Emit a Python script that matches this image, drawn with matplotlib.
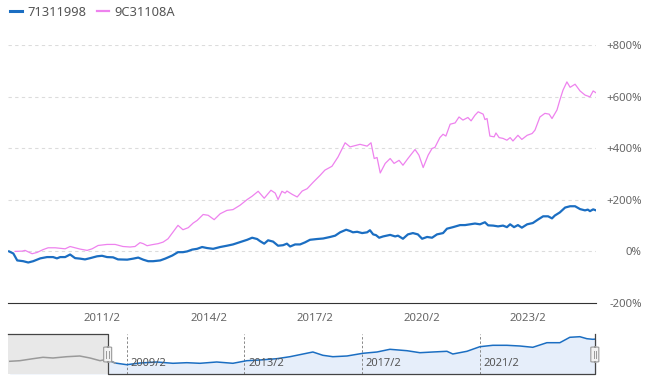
import numpy as np
import matplotlib.pyplot as plt
from matplotlib.lines import Line2D
from matplotlib.patches import FancyBboxPatch
import matplotlib.transforms as mtransforms

plt.rcParams['font.family'] = ['Noto Sans', 'DejaVu Sans']

# -----------------------------
# Data (decimal year, % change)
# -----------------------------
fund_a_name = "71311998"
fund_a_year = [2008.46, 2008.58, 2008.69, 2008.86, 2009.00, 2009.14, 2009.34, 2009.53, 2009.70, 2009.81,
               2009.90, 2010.04, 2010.18, 2010.32, 2010.46, 2010.60, 2010.75, 2010.94, 2011.08, 2011.22,
               2011.39, 2011.53, 2011.79, 2011.96, 2012.10, 2012.24, 2012.38, 2012.52, 2012.72, 2012.86,
               2013.06, 2013.22, 2013.36, 2013.48, 2013.62, 2013.76, 2013.90, 2014.04, 2014.21, 2014.41,
               2014.60, 2014.77, 2014.97, 2015.17, 2015.31, 2015.45, 2015.53, 2015.65, 2015.76, 2015.90,
               2016.04, 2016.18, 2016.29, 2016.38, 2016.52, 2016.66, 2016.80, 2016.94, 2017.14, 2017.31,
               2017.51, 2017.65, 2017.79, 2017.96, 2018.07, 2018.15, 2018.27, 2018.41, 2018.55, 2018.63,
               2018.72, 2018.80, 2018.89, 2019.00, 2019.20, 2019.34, 2019.42, 2019.56, 2019.70, 2019.84,
               2019.98, 2020.10, 2020.24, 2020.38, 2020.52, 2020.69, 2020.80, 2020.97, 2021.17, 2021.31,
               2021.45, 2021.59, 2021.73, 2021.87, 2021.96, 2022.10, 2022.24, 2022.38, 2022.49, 2022.58,
               2022.69, 2022.80, 2022.91, 2023.06, 2023.22, 2023.36, 2023.51, 2023.65, 2023.76, 2023.84,
               2023.98, 2024.13, 2024.27, 2024.41, 2024.55, 2024.69, 2024.77, 2024.83, 2024.92, 2025.00]
fund_a_pct = [0, -8, -35, -38, -43, -38, -27, -22, -22, -27,
              -22, -22, -12, -26, -28, -31, -26, -19, -17, -22,
              -23, -31, -32, -28, -24, -32, -38, -38, -35, -28,
              -16, -3, -3, 0, 7, 10, 17, 13, 10, 17,
              22, 27, 36, 45, 53, 48, 40, 30, 43, 38,
              22, 24, 30, 19, 27, 27, 35, 45, 48, 50,
              56, 61, 74, 84, 79, 74, 76, 71, 74, 82,
              66, 63, 53, 58, 64, 58, 61, 49, 66, 71,
              66, 49, 56, 53, 66, 71, 88, 94, 102, 102,
              105, 108, 105, 113, 101, 100, 97, 100, 94, 105,
              94, 102, 92, 105, 110, 123, 136, 136, 128, 139,
              151, 170, 175, 175, 164, 159, 162, 156, 163, 159]

fund_b_name = "9C31108A"
fund_b_year = [2008.63, 2008.83, 2008.91, 2009.11, 2009.25, 2009.42, 2009.56, 2009.76, 2009.90, 2010.04,
               2010.18, 2010.32, 2010.46, 2010.66, 2010.80, 2010.97, 2011.22, 2011.45, 2011.67, 2011.87,
               2012.01, 2012.15, 2012.24, 2012.35, 2012.49, 2012.66, 2012.80, 2012.94, 2013.08, 2013.22,
               2013.36, 2013.51, 2013.65, 2013.76, 2013.93, 2014.07, 2014.24, 2014.41, 2014.60, 2014.77,
               2014.97, 2015.17, 2015.31, 2015.48, 2015.65, 2015.84, 2015.96, 2016.04, 2016.15, 2016.24,
               2016.29, 2016.44, 2016.58, 2016.72, 2016.86, 2017.03, 2017.22, 2017.36, 2017.56, 2017.73,
               2017.93, 2018.07, 2018.21, 2018.35, 2018.55, 2018.66, 2018.75, 2018.83, 2018.92, 2019.06,
               2019.20, 2019.31, 2019.45, 2019.56, 2019.70, 2019.90, 2020.01, 2020.13, 2020.27, 2020.38,
               2020.46, 2020.60, 2020.69, 2020.77, 2020.89, 2021.03, 2021.14, 2021.25, 2021.39, 2021.48,
               2021.59, 2021.68, 2021.82, 2021.87, 2021.93, 2022.01, 2022.13, 2022.18, 2022.27, 2022.38,
               2022.49, 2022.58, 2022.66, 2022.80, 2022.91, 2023.06, 2023.20, 2023.28, 2023.42, 2023.56,
               2023.68, 2023.76, 2023.90, 2023.98, 2024.07, 2024.18, 2024.27, 2024.41, 2024.55, 2024.69,
               2024.83, 2024.92, 2025.03]
fund_b_pct = [0, 1, 4, -9, -4, 7, 14, 14, 12, 10,
              19, 14, 9, 4, 10, 23, 27, 27, 19, 17,
              19, 34, 30, 22, 26, 30, 36, 49, 75, 101,
              84, 92, 110, 120, 143, 140, 123, 146, 159, 162,
              179, 201, 214, 233, 206, 237, 226, 201, 233, 226,
              234, 221, 211, 234, 243, 268, 294, 315, 330, 366,
              421, 405, 410, 415, 408, 421, 360, 364, 304, 341,
              360, 341, 353, 334, 360, 395, 373, 325, 373, 399,
              403, 441, 454, 447, 493, 498, 521, 509, 519, 506,
              528, 541, 532, 511, 515, 447, 444, 459, 441, 438,
              431, 441, 428, 450, 434, 450, 457, 470, 521, 535,
              532, 515, 548, 586, 625, 657, 636, 648, 622, 606,
              599, 622, 612]

# navigator: full history of 71311998 (price index)
nav_year = [2005.10, 2005.44, 2005.89, 2006.23, 2006.57, 2007.04, 2007.48, 2007.83, 2008.17, 2008.40,
            2008.68, 2009.08, 2009.53, 2010.10, 2010.65, 2011.12, 2011.57, 2012.14, 2012.69, 2013.16,
            2013.61, 2014.18, 2014.63, 2014.97, 2015.41, 2015.75, 2016.09, 2016.57, 2017.11, 2017.59,
            2018.03, 2018.61, 2019.05, 2019.49, 2019.97, 2020.17, 2020.65, 2021.09, 2021.53, 2022.01,
            2022.45, 2022.89, 2023.37, 2023.81, 2024.15, 2024.49, 2024.73, 2024.93, 2025.04]
nav_value = [9780, 10240, 11780, 12860, 12320, 13320, 13860, 12320, 10240, 11320,
             8470, 7160, 8470, 9240, 8240, 8700, 8240, 9240, 8240, 10240,
             10780, 11780, 13320, 14900, 16940, 14400, 13320, 13860, 15940, 16940,
             19020, 17940, 16400, 16940, 17480, 15400, 17480, 21020, 22100, 22100,
             21560, 20560, 24100, 24100, 28260, 28720, 27180, 26720, 26900]

main_ticks = [2011 + 1/12, 2014 + 1/12, 2017 + 1/12, 2020 + 1/12, 2023 + 1/12]
main_tick_labels = ["2011/2", "2014/2", "2017/2", "2020/2", "2023/2"]
nav_ticks = [2009 + 1/12, 2013 + 1/12, 2017 + 1/12, 2021 + 1/12]
nav_tick_labels = ["2009/2", "2013/2", "2017/2", "2021/2"]
y_ticks = [-200, 0, 200, 400, 600, 800]
y_tick_labels = ["-200%", "0%", "+200%", "+400%", "+600%", "+800%"]

view_start, view_end = 2008.43, 2025.0
nav_start, nav_end = 2005.04, 2025.04

blue = "#1b6ec2"
pink = "#ee82ee"
text_gray = "#666666"

# -----------------------------
# Figure
# -----------------------------
W, H = 659, 381
fig = plt.figure(figsize=(W / 100, H / 100), dpi=100)

def px_axes(x0, y0, x1, y1):
    return fig.add_axes([x0 / W, 1 - y1 / H, (x1 - x0) / W, (y1 - y0) / H])

ax = px_axes(8, 45, 596, 303)
ax.plot(fund_b_year, fund_b_pct, color=pink, lw=0.9, zorder=3)
ax.plot(fund_a_year, fund_a_pct, color=blue, lw=1.6, zorder=4)
ax.set_xlim(view_start, view_end)
ax.set_ylim(-200, 800)

for v in y_ticks[1:]:
    ax.axhline(v, color="#dcdcdc", lw=0.8, ls=(0, (3, 3)), zorder=1)

for s in ["top", "left", "right"]:
    ax.spines[s].set_visible(False)
ax.spines["bottom"].set_color("#333333")
ax.spines["bottom"].set_linewidth(0.8)

ax.set_xticks(main_ticks)
ax.set_xticklabels(main_tick_labels, fontsize=8.2, color=text_gray)
ax.tick_params(axis="x", length=0, pad=7)

ax.yaxis.tick_right()
ax.set_yticks(y_ticks)
ax.set_yticklabels(y_tick_labels, fontsize=8.2, color=text_gray)
for lab in ax.get_yticklabels():
    lab.set_horizontalalignment("right")
ax.tick_params(axis="y", length=0, pad=33)

# legend
handles = [Line2D([], [], color=blue, lw=2.2), Line2D([], [], color=pink, lw=1.6)]
fig.legend(handles, [fund_a_name, fund_b_name], loc="upper left", bbox_to_anchor=(-0.002, 1.015),
           ncol=2, frameon=False, fontsize=9.3, handlelength=0.9, handletextpad=0.45,
           columnspacing=0.8, labelcolor="#555555")

# -----------------------------
# Navigator
# -----------------------------
nav = px_axes(8, 334, 596, 374)
nav.set_xlim(nav_start, nav_end)
nav.set_ylim(0, 30800)
nx = np.array(nav_year)
ny = np.array(nav_value)
nav.fill_between(nx, ny, 0, color="#e6eefa", lw=0, zorder=1)
nav.plot(nx, ny, color=blue, lw=1.1, zorder=3)
nav.axvspan(nav_start, view_start, color="#e8e8e8", lw=0, zorder=4)
left = nx <= view_start + 0.3
nav.plot(nx[left], ny[left], color="#9a9a9a", lw=1.1, zorder=5)
for s in nav.spines.values():
    s.set_visible(False)
nav.set_xticks([])
nav.set_yticks([])
for t, lab in zip(nav_ticks, nav_tick_labels):
    nav.axvline(t, color="#888888", lw=0.7, ls=(0, (2.5, 2)), zorder=2)
    nav.text(t + 0.13, 0.25, lab, transform=mtransforms.blended_transform_factory(nav.transData, nav.transAxes),
             fontsize=8, color="#555555", va="center", ha="left", zorder=6)

trans = mtransforms.blended_transform_factory(nav.transData, nav.transAxes)
nav.plot([nav_start, view_start, view_start, view_end, view_end], [1, 1, 0, 0, 1],
         color="#444444", lw=0.9, transform=trans, clip_on=False, zorder=7)

def handle(xval):
    xa = (xval - nav_start) / (nav_end - nav_start)
    hw, hh = 8 / 588, 15 / 40
    box = FancyBboxPatch((xa - hw / 2, 0.3), hw, hh, boxstyle="round,pad=0,rounding_size=0.008",
                         transform=nav.transAxes, facecolor="#f2f2f2", edgecolor="#999999",
                         lw=0.8, clip_on=False, zorder=8)
    nav.add_patch(box)
    for dx in (-1.2 / 588, 1.2 / 588):
        nav.plot([xa + dx, xa + dx], [0.4, 0.58], color="#999999", lw=0.7,
                 transform=nav.transAxes, clip_on=False, zorder=9)

handle(view_start)
handle(view_end)

plt.savefig("out.png", dpi=100)
